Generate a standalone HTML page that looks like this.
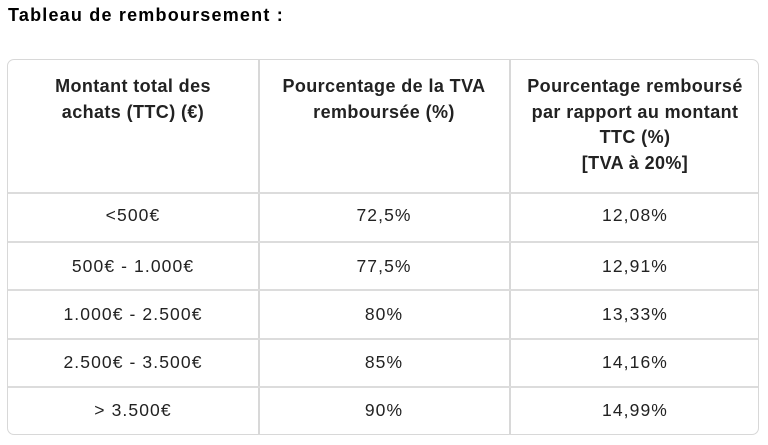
<!DOCTYPE html>
<html><head><meta charset="utf-8"><style>
body{margin:0;width:768px;height:445px;background:#fff;font-family:"Liberation Sans",sans-serif;color:#222;position:relative;overflow:hidden}
.t{position:absolute;left:8px;top:5px;font-size:18px;font-weight:bold;color:#000;letter-spacing:1.2px}
.tb{position:absolute;left:7px;top:59px;width:752px;height:376px;border:1.5px solid #d8d8d8;border-radius:7px;box-sizing:border-box}
.v{position:absolute;top:0;bottom:0;width:1.5px;background:#d8d8d8}
.h{position:absolute;left:0;right:0;height:1.5px;background:#dcdcdc}
.c{position:absolute;text-align:center;font-size:17.5px;color:#222;letter-spacing:1.1px}
.hd{position:absolute;top:14px;text-align:center;font-size:18px;font-weight:bold;line-height:25.5px;color:#222;letter-spacing:0.4px}
</style></head><body>
<div class="t">Tableau de remboursement :</div>
<div class="tb">
<div class="v" style="left:250px"></div>
<div class="v" style="left:501px"></div>
<div class="h" style="top:132px"></div>
<div class="h" style="top:181px"></div>
<div class="h" style="top:229px"></div>
<div class="h" style="top:278px"></div>
<div class="h" style="top:326px"></div>
<div class="hd" style="left:0;width:250px">Montant total des<br>achats (TTC) (€)</div>
<div class="hd" style="left:251px;width:250px">Pourcentage de la TVA<br>remboursée (%)</div>
<div class="hd" style="left:502px;width:250px">Pourcentage remboursé<br>par rapport au montant<br>TTC (%)<br>[TVA à 20%]</div>
<div class="c" style="left:0;width:250px;top:145px">&lt;500€</div>
<div class="c" style="left:251px;width:250px;top:145px">72,5%</div>
<div class="c" style="left:502px;width:250px;top:145px">12,08%</div>
<div class="c" style="left:0;width:250px;top:196px">500€ - 1.000€</div>
<div class="c" style="left:251px;width:250px;top:196px">77,5%</div>
<div class="c" style="left:502px;width:250px;top:196px">12,91%</div>
<div class="c" style="left:0;width:250px;top:244px">1.000€ - 2.500€</div>
<div class="c" style="left:251px;width:250px;top:244px">80%</div>
<div class="c" style="left:502px;width:250px;top:244px">13,33%</div>
<div class="c" style="left:0;width:250px;top:292px">2.500€ - 3.500€</div>
<div class="c" style="left:251px;width:250px;top:292px">85%</div>
<div class="c" style="left:502px;width:250px;top:292px">14,16%</div>
<div class="c" style="left:0;width:250px;top:340px">&gt; 3.500€</div>
<div class="c" style="left:251px;width:250px;top:340px">90%</div>
<div class="c" style="left:502px;width:250px;top:340px">14,99%</div>
</div>
</body></html>
